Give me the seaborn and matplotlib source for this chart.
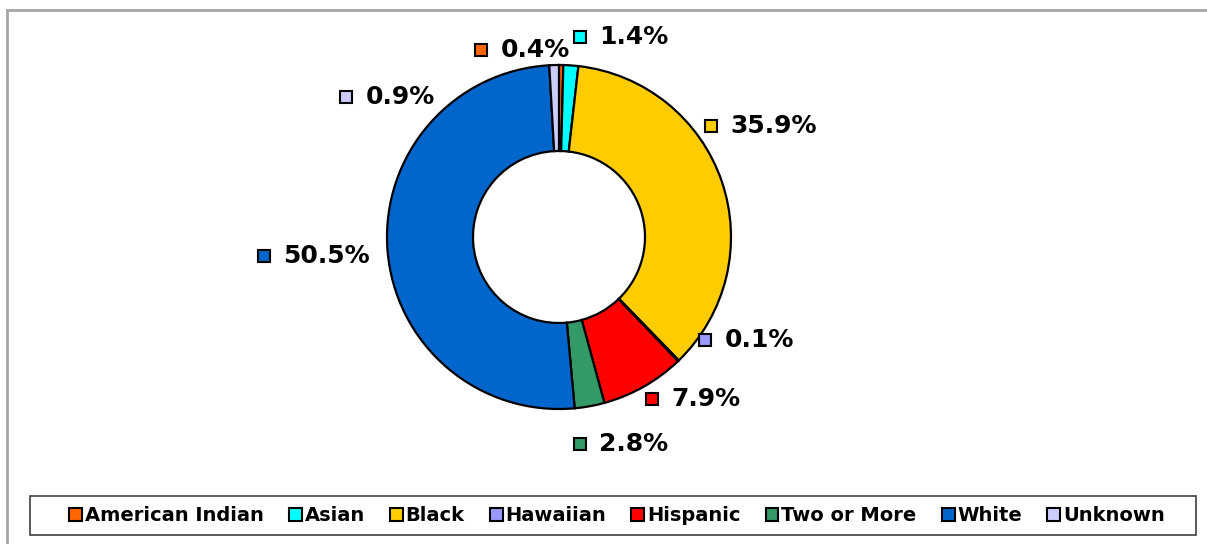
import matplotlib
matplotlib.use("Agg")
import matplotlib.pyplot as plt
from matplotlib.patches import Patch, Rectangle
import seaborn as sns

# data
groups = ["American Indian", "Asian", "Black", "Hawaiian", "Hispanic",
          "Two or More", "White", "Unknown"]
shares = [0.4, 1.4, 35.9, 0.1, 7.9, 2.8, 50.5, 0.9]
colors = ["#FF6600", "#00FFFF", "#FFCC00", "#9999FF", "#FF0000",
          "#339966", "#0066CC", "#CCCCFF"]

# label spots (in units of the pie radius, measured from the centre)
label_xy = [(-0.453, 1.087), (0.122, 1.163), (0.884, 0.645), (0.849, -0.599),
            (0.541, -0.942), (0.122, -1.203), (-1.715, -0.110), (-1.238, 0.814)]

sns.set_style("white")
plt.rcParams["font.family"] = ["DejaVu Sans"]
plt.rcParams["text.color"] = "black"

W, H = 1207, 544
fig = plt.figure(figsize=(W / 100, H / 100), dpi=100)

# pie axes: centre (559, 237) px, radius 172 px
cx, cy, r = 559, 237, 172
ax = fig.add_axes([(cx - r) / W, 1 - (cy + r) / H, 2 * r / W, 2 * r / H])
ax.pie(shares, colors=colors, startangle=90, counterclock=False,
       radius=1, wedgeprops=dict(width=0.5, edgecolor="black", linewidth=1.6))
ax.set_xlim(-1, 1)
ax.set_ylim(-1, 1)
ax.set_aspect("equal")
ax.axis("off")

for val, col, (lx, ly) in zip(shares, colors, label_xy):
    ax.plot(lx, ly, marker="s", markersize=9, markerfacecolor=col,
            markeredgecolor="black", markeredgewidth=1.5, clip_on=False)
    ax.annotate(f"{val:.1f}%", (lx, ly), xytext=(14, 0),
                textcoords="offset points", ha="left", va="center",
                fontsize=18, fontweight="bold", color="black",
                annotation_clip=False)

# outer chart frame (top and left edges visible)
fig.add_artist(Rectangle((7 / W, -0.1), 1.2, 1 - 10 / H + 0.1,
                         transform=fig.transFigure, fill=False,
                         edgecolor="#A6A6A6", linewidth=2))

# legend box
fig.add_artist(Rectangle((30 / W, 1 - 535 / H), 1166 / W, 39 / H,
                         transform=fig.transFigure, fill=False,
                         edgecolor="#404040", linewidth=1.2))
handles = [Patch(facecolor=c, edgecolor="black", linewidth=1.5) for c in colors]
leg = fig.legend(handles, groups, loc="center",
                 bbox_to_anchor=(617 / W, 1 - 515.5 / H), ncol=8,
                 frameon=False, prop=dict(weight="bold", size=14),
                 handlelength=0.65, handleheight=0.65, handletextpad=0.15,
                 columnspacing=1.3, borderpad=0)
for t in leg.get_texts():
    t.set_color("black")

fig.savefig("out.png", dpi=100, facecolor="white")
